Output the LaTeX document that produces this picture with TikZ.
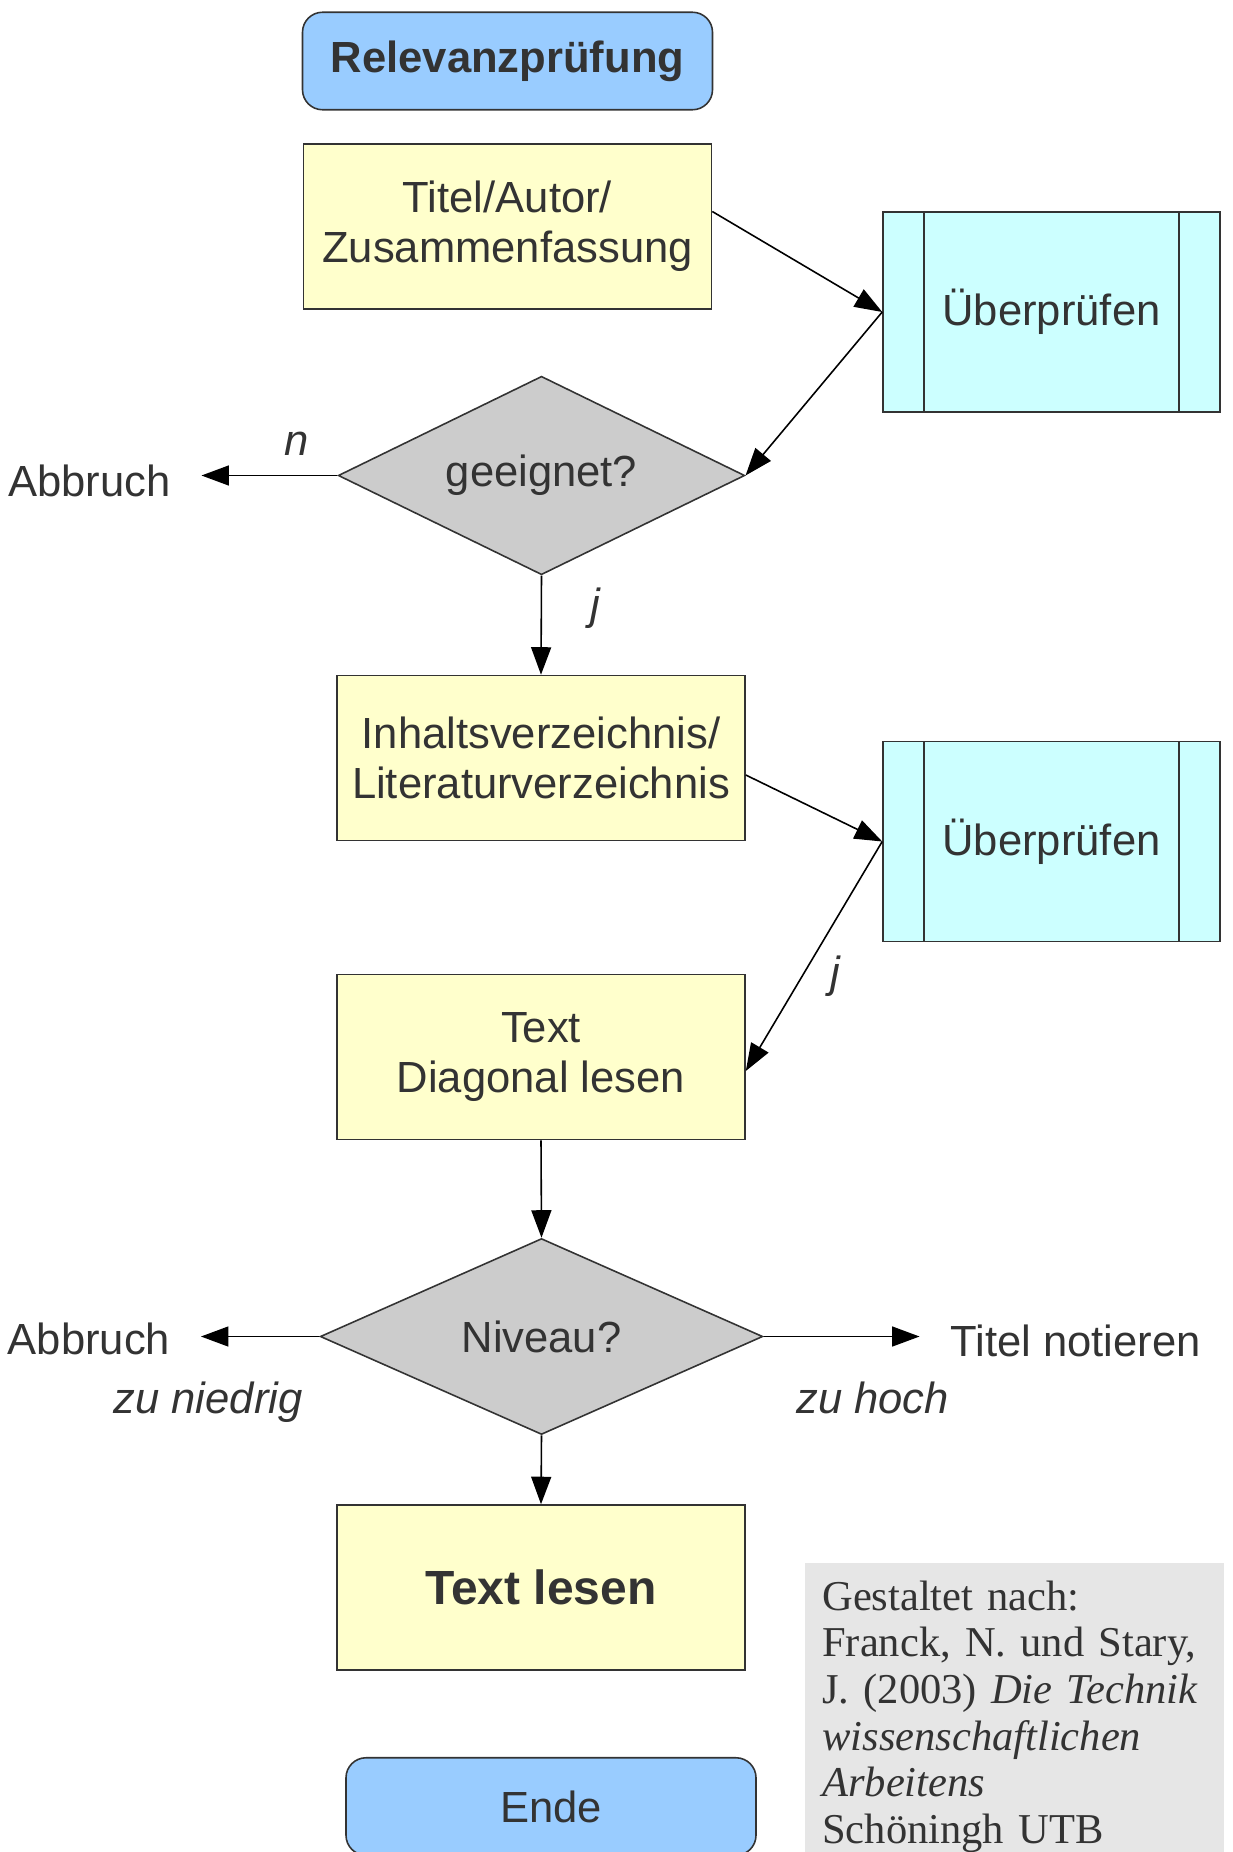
\documentclass[tikz,border=0pt]{standalone}
\usepackage{fontspec}
\setmainfont{Liberation Sans}
\newfontfamily\notefont{Liberation Serif}
\usetikzlibrary{positioning,shapes.geometric,arrows.meta}
\definecolor{textgray}{HTML}{333333}
\definecolor{termblue}{HTML}{99CCFF}
\definecolor{boxyellow}{HTML}{FFFFCC}
\definecolor{checkcyan}{HTML}{CCFFFF}
\definecolor{decgray}{HTML}{CCCCCC}
\definecolor{notegray}{HTML}{E6E6E6}

\begin{document}
\begin{tikzpicture}[
    >={Triangle[length=5.5mm,width=4mm]},
    line width=0.9pt,
    every node/.style={text=textgray, font=\fontsize{24.8}{28.4}\selectfont},
    terminal/.style={draw=black!80, fill=termblue, rounded corners=0.4cm, minimum width=8.2cm, minimum height=1.95cm},
    block/.style={draw=black!80, fill=boxyellow, minimum width=8.16cm, minimum height=3.3cm, align=center},
    decision/.style={diamond, draw=black!80, fill=decgray, aspect=2, inner sep=0pt, minimum width=8.13cm, minimum height=3.97cm},
    check/.style={draw=black!80, fill=checkcyan, minimum width=6.74cm, minimum height=4cm,
        path picture={\draw[black!80] ([xshift=0.82cm]path picture bounding box.north west) -- ([xshift=0.82cm]path picture bounding box.south west)
            ([xshift=-0.82cm]path picture bounding box.north east) -- ([xshift=-0.82cm]path picture bounding box.south east);}},
    side/.style={inner ysep=0pt, inner xsep=6mm},
    lbl/.style={inner sep=0pt, font=\fontsize{24.8}{28.4}\selectfont\itshape, text height=0.6cm, text depth=0.18cm}
]
\useasboundingbox (0,0) rectangle (24.66,-37.04);

% Main column
\node[terminal, font=\fontsize{24.8}{28.4}\selectfont\bfseries] (start) at (10.15,-1.22) {Relevanzprüfung};
\node[block] (titel) at (10.15,-4.53) {Titel/Autor/\\Zusammenfassung};
\node[decision] (geeignet) at (10.83,-9.51) {geeignet?};
\node[block] (inhalt) at (10.82,-15.16) {Inhaltsverzeichnis/\\Literaturverzeichnis};
\node[block] (diagonal) at (10.82,-21.14) {Text\\Diagonal lesen};
\node[decision, minimum width=8.85cm, minimum height=3.92cm] (niveau) at (10.83,-26.73) {Niveau?};
\node[block, font=\fontsize{27.3}{31}\selectfont\bfseries] (lesen) at (10.82,-31.75) {Text lesen};
\node[terminal] (ende) at (11.02,-36.13) {Ende};

% Checks
\node[check] (check1) at (21.03,-6.24) {Überprüfen};
\node[check] (check2) at (21.03,-16.83) {Überprüfen};

% Outcomes
\node[side, left=2.72cm of geeignet, yshift=-1mm] (stop1) {Abbruch};
\node[side, left=2.37cm of niveau, yshift=-0.4mm] (stop2) {Abbruch};
\node[side, right=3.12cm of niveau, yshift=-0.9mm] (notieren) {Titel notieren};

% Source
\node[fill=notegray, anchor=north west, inner sep=3.5mm, text width=7.69cm, align=left,
      font=\notefont\fontsize{24.2}{26.5}\selectfont] (quelle) at (16.08,-31.25)
      {Gestaltet nach:\\Franck, N. und Stary,\\J. (2003) \textit{Die Technik}\\\textit{wissenschaftlichen}\\\textit{Arbeitens}\\Schöningh UTB};

% Connections
\draw[->] ([yshift=3mm]titel.east) -- (check1.west);
\draw[->] (check1.west) -- (geeignet.east);
\draw[->] (geeignet.west) -- (geeignet.west -| stop1.east) node[lbl, pos=0.3, above=2mm] {n};
\draw[->] (geeignet.south) -- (inhalt.north) node[lbl, pos=0.34, right=9.7mm] {j};
\draw[->] ([yshift=-3.4mm]inhalt.east) -- (check2.west);
\draw[->] (check2.west) -- ([yshift=-2.8mm]diagonal.east) node[lbl, pos=0.59, right=5.5mm] {j};
\draw[->] (diagonal.south) -- (niveau.north);
\draw[->] (niveau.west) -- (niveau.west -| stop2.east) node[lbl, pos=0.94, below=9.3mm] {zu niedrig};
\draw[->] (niveau.east) -- (niveau.east -| notieren.west) node[lbl, pos=0.7, below=9.3mm] {zu hoch};
\draw[->] (niveau.south) -- (lesen.north);

\end{tikzpicture}
\end{document}
